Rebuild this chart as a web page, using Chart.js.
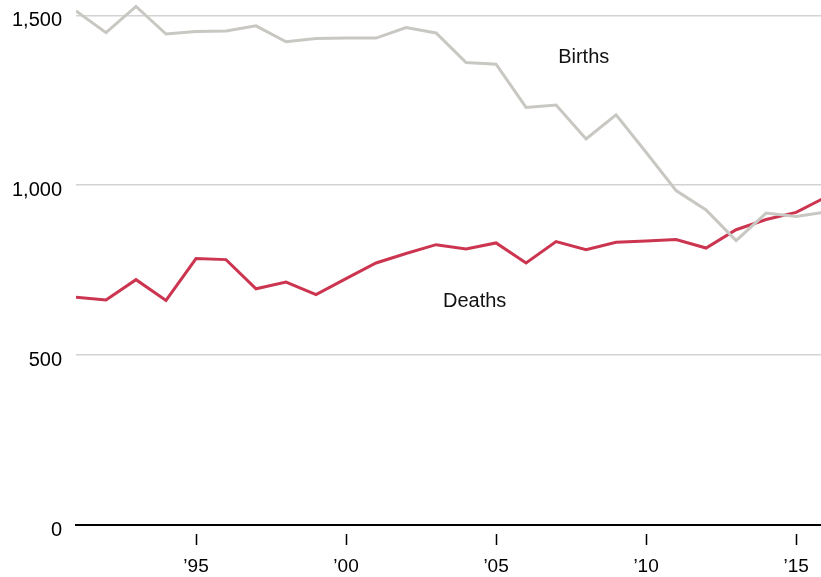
<!DOCTYPE html>
<html>
<head>
<meta charset="utf-8">
<script src="https://cdn.jsdelivr.net/npm/chart.js@4"></script>
<style>
  html, body { margin: 0; padding: 0; background: #fff; }
  #wrap { width: 821px; height: 577px; }
</style>
</head>
<body>
<div id="wrap"><canvas id="myChart"></canvas></div>
<script>
const years = [1991, 1992, 1993, 1994, 1995, 1996, 1997, 1998, 1999, 2000, 2001, 2002, 2003,
               2004, 2005, 2006, 2007, 2008, 2009, 2010, 2011, 2012, 2013, 2014, 2015, 2016];
const births = [1513, 1449, 1526, 1445, 1452, 1454, 1469, 1422, 1432, 1433, 1433, 1464, 1448,
                1361, 1356, 1229, 1236, 1136, 1207, 1097, 984, 927, 837, 918, 908, 921];
const deaths = [670, 662, 722, 661, 784, 781, 695, 715, 678, 725, 771, 799, 825,
                812, 830, 771, 834, 810, 832, 836, 840, 815, 869, 899, 920, 965];
const xTicks = [1995, 2000, 2005, 2010, 2015];
const yTicks = [0, 500, 1000, 1500];
// series labels, placed in data units
const labels = [
  { text: 'Births', x: 2007.07, y: 1376 },
  { text: 'Deaths', x: 2003.23, y: 657 }
];

const font = 'Liberation Sans, Arial, sans-serif';

function pts(vals) {
  return years.map((y, i) => ({ x: y, y: vals[i] }));
}

// draws the "Births" / "Deaths" text next to the lines
const seriesText = {
  id: 'seriesText',
  afterDatasetsDraw(chart) {
    const c = chart.ctx;
    c.save();
    c.font = '20px ' + font;
    c.fillStyle = '#111';
    c.textAlign = 'left';
    c.textBaseline = 'middle';
    labels.forEach(l => {
      c.fillText(l.text, chart.scales.x.getPixelForValue(l.x), chart.scales.y.getPixelForValue(l.y));
    });
    c.restore();
  }
};

const ctx = document.getElementById('myChart');

new Chart(ctx, {
  type: 'line',
  data: {
    datasets: [{
      label: 'Births',
      data: pts(births),
      borderColor: '#c9c7c2',
      borderWidth: 3,
      pointRadius: 0,
      tension: 0,
      clip: { left: 0, top: false, right: 0, bottom: 0 }
    }, {
      label: 'Deaths',
      data: pts(deaths),
      borderColor: '#cc3550',
      borderWidth: 3,
      pointRadius: 0,
      tension: 0,
      clip: { left: 0, top: false, right: 0, bottom: 0 }
    }]
  },
  options: {
    responsive: true,
    maintainAspectRatio: false,
    animation: false,
    layout: { padding: 0 },
    plugins: {
      legend: { display: false },
      tooltip: { enabled: false }
    },
    scales: {
      x: {
        type: 'linear',
        min: 1991,
        max: 2015.83,
        afterBuildTicks: s => { s.ticks = xTicks.map(v => ({ value: v })); },
        afterFit: s => { s.height = 52; s.paddingLeft = 0; s.paddingRight = 0; },
        border: { display: true, color: '#000', width: 2 },
        grid: {
          drawOnChartArea: false,
          drawTicks: true,
          tickLength: 20,
          tickColor: '#000',
          tickWidth: 1.5,
          tickBorderDash: [0, 8, 11, 100]
        },
        ticks: {
          padding: 10,
          maxRotation: 0,
          autoSkip: false,
          color: '#000',
          font: { family: font, size: 19 },
          callback: v => '\u2019' + String(v).slice(2)
        }
      },
      y: {
        min: 0,
        max: 1545,
        afterBuildTicks: s => { s.ticks = yTicks.map(v => ({ value: v })); },
        afterFit: s => { s.width = 76; s.paddingTop = 0; s.paddingBottom = 0; },
        border: { display: false },
        grid: {
          color: ctx => ctx.tick && ctx.tick.value === 0 ? 'transparent' : '#d3d3d3',
          lineWidth: 1.5,
          drawTicks: true,
          tickLength: 14,
          tickColor: 'transparent'
        },
        ticks: {
          padding: 0,
          labelOffset: 5,
          color: '#000',
          font: { family: font, size: 20 },
          callback: v => v.toLocaleString('en-US')
        }
      }
    }
  },
  plugins: [seriesText]
});
</script>
</body>
</html>
